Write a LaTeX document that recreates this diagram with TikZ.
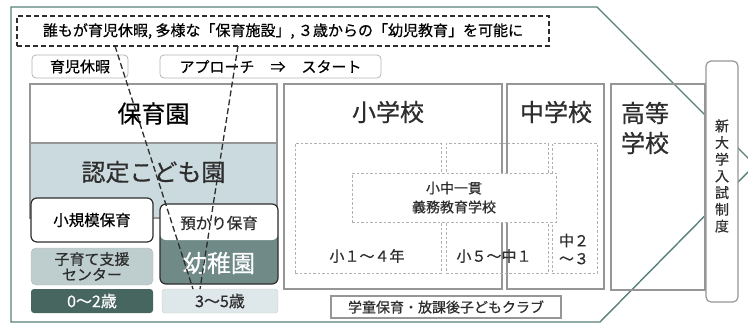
\documentclass[tikz,border=0pt]{standalone}
\usepackage{fontspec}
\setmainfont{Noto Sans CJK JP}[FakeBold=0.5]
\definecolor{rim}{RGB}{88,128,122}
\definecolor{frame}{RGB}{150,150,150}
\definecolor{ink}{RGB}{45,45,45}
\definecolor{pale}{RGB}{203,218,222}
\definecolor{mist}{RGB}{222,231,233}
\definecolor{sage}{RGB}{190,206,206}
\definecolor{deep}{RGB}{72,102,96}
\definecolor{slate}{RGB}{112,138,136}
\newcommand\fsBig{\fontsize{24}{30}\selectfont}
\newcommand\fsMid{\fontsize{15}{17}\selectfont}
\newcommand\fsSmall{\fontsize{14}{16}\selectfont}
\tikzset{
  sz/.style 2 args={minimum width=#1,minimum height=#2},
  blk/.style={draw=frame,line width=1.2pt,fill=white,inner sep=0pt,outer sep=0pt},
  tag/.style={draw=frame!70,line width=0.8pt,fill=white,rounded corners=4pt,inner sep=0pt,outer sep=0pt,font=\fsMid},
  goal/.style={draw=ink,line width=1.2pt,dash pattern=on 5pt off 3pt,inner sep=0pt,outer sep=0pt,font=\fsMid},
  dbox/.style={draw=frame!75,line width=0.8pt,dash pattern=on 2.5pt off 2pt,inner sep=0pt,outer sep=0pt},
  cbox/.style={draw=ink,line width=1.2pt,fill=white,rounded corners=6pt,inner sep=0pt,outer sep=0pt},
  agebox/.style={rounded corners=3pt,inner sep=0pt,outer sep=0pt,font=\fontsize{16}{18}\selectfont},
  txt/.style={inner sep=0pt,text=ink},
  vline/.style={ink,line width=1.3pt,dash pattern=on 6pt off 3pt}
}
\begin{document}
\begin{tikzpicture}[x=1pt,y=-1pt]
\useasboundingbox (0,0) rectangle (748,325);
% outer arrow
\draw[rim,line width=1.4pt] (11,7) -- (597,7) -- (755,165) -- (600,322) -- (11,322) -- cycle;
% top row
\node[goal,sz={532}{30}] (goal) at (283,31) {誰もが育児休暇, 多様な「保育施設」, ３歳からの「幼児教育」を可能に};
\node[tag,sz={96}{23}] (leave) at (80,66.5) {育児休暇};
\node[tag,sz={221}{23}] (approach) at (270.5,66.5) {アプローチ\hspace{16pt}⇒\hspace{16pt}スタート};
% preschool side
\node[blk,fill=pale,sz={247}{75}] (kodomo) at (153.5,180.5) {};
\node[blk,sz={247}{59},font=\fsBig] (hoiku) at (153.5,113.5) {保育園};
\node[txt,font=\fsBig] (kodomoname) at (153.5,172) {認定こども園};
\node[cbox,sz={122}{44},font=\fontsize{15.5}{17}\selectfont] (small) at (92,220) {小規模保育};
\node[cbox,fill=slate,sz={118}{80},
  path picture={\fill[white] (path picture bounding box.north west) rectangle ([yshift=-36pt]path picture bounding box.north east);}]
  (yochi) at (219,244) {};
\node[txt,font=\fontsize{15.5}{17}\selectfont] (azukari) at (219,223) {預かり保育};
\node[inner sep=0pt,text=white,font=\fsBig] (yochiname) at (219,263) {幼稚園};
\node[draw=frame!70,fill=sage,rounded corners=5pt,sz={122}{37},inner sep=0pt,align=center,
  text=ink,font=\fontsize{15}{15.5}\selectfont] (support) at (92,266.5) {子育て支援\\センター};
\node[agebox,fill=deep,text=white,sz={122}{24}] (age02) at (92,301) {0～2歳};
\node[agebox,draw=frame!50,fill=mist,text=ink,sz={116}{24}] (age35) at (220,301) {3～5歳};
% schools
\node[blk,sz={218}{205}] (elem) at (393,186.5) {};
\node[blk,sz={97}{205}] (junior) at (555.5,186.5) {};
\node[draw=frame,line width=1.2pt,inner sep=0pt,sz={94}{206}] (high) at (658,187) {};
\node[txt,font=\fsBig] (elemname) at (388,112) {小学校};
\node[txt,font=\fsBig] (juniorname) at (556,112) {中学校};
\node[txt,font=\fsBig,align=left] (highname) at (645,128) {高等\\学校};
\node[dbox,sz={146}{130}] (lower) at (368,208) {};
\node[dbox,sz={102}{130}] (middle) at (497,208) {};
\node[dbox,sz={45}{130}] (upper) at (574.5,208) {};
\node[dbox,fill=white,sz={204}{49},align=center,text=ink,font=\fontsize{14}{19}\selectfont] (ikkan) at (454,197.5) {小中一貫\\義務教育学校};
\node[txt,font=\fsMid] (lowername) at (367,256) {小１～４年};
\node[txt,font=\fsMid] (middlename) at (494,256) {小５～中１};
\node[txt,font=\fontsize{15}{18}\selectfont,align=center] (uppername) at (574,249) {中２\\～３};
\node[blk,sz={230}{22},font=\fsSmall,text=ink] (club) at (446,307) {学童保育・放課後子どもクラブ};
\node[draw=frame,line width=1.2pt,fill=white,rounded corners=5pt,inner sep=0pt,sz={32}{241}] (exam) at (722,181.5) {};
\node[txt,align=center,font=\fontsize{14}{16.7}\selectfont] (examname) at (722,176) {新\\大\\学\\入\\試\\制\\度};
% V from the goal down to 3-5
\coordinate (vtopL) at ([xshift=98pt]goal.south west);
\coordinate (vtopR) at ([xshift=221pt]goal.south west);
\coordinate (vbotL) at ([xshift=-27pt]age35.north);
\coordinate (vbotR) at ([xshift=-20pt]age35.north);
\draw[vline] (vtopL) -- (vbotL);
\draw[vline] (vtopR) -- (vbotR);
\end{tikzpicture}
\end{document}
